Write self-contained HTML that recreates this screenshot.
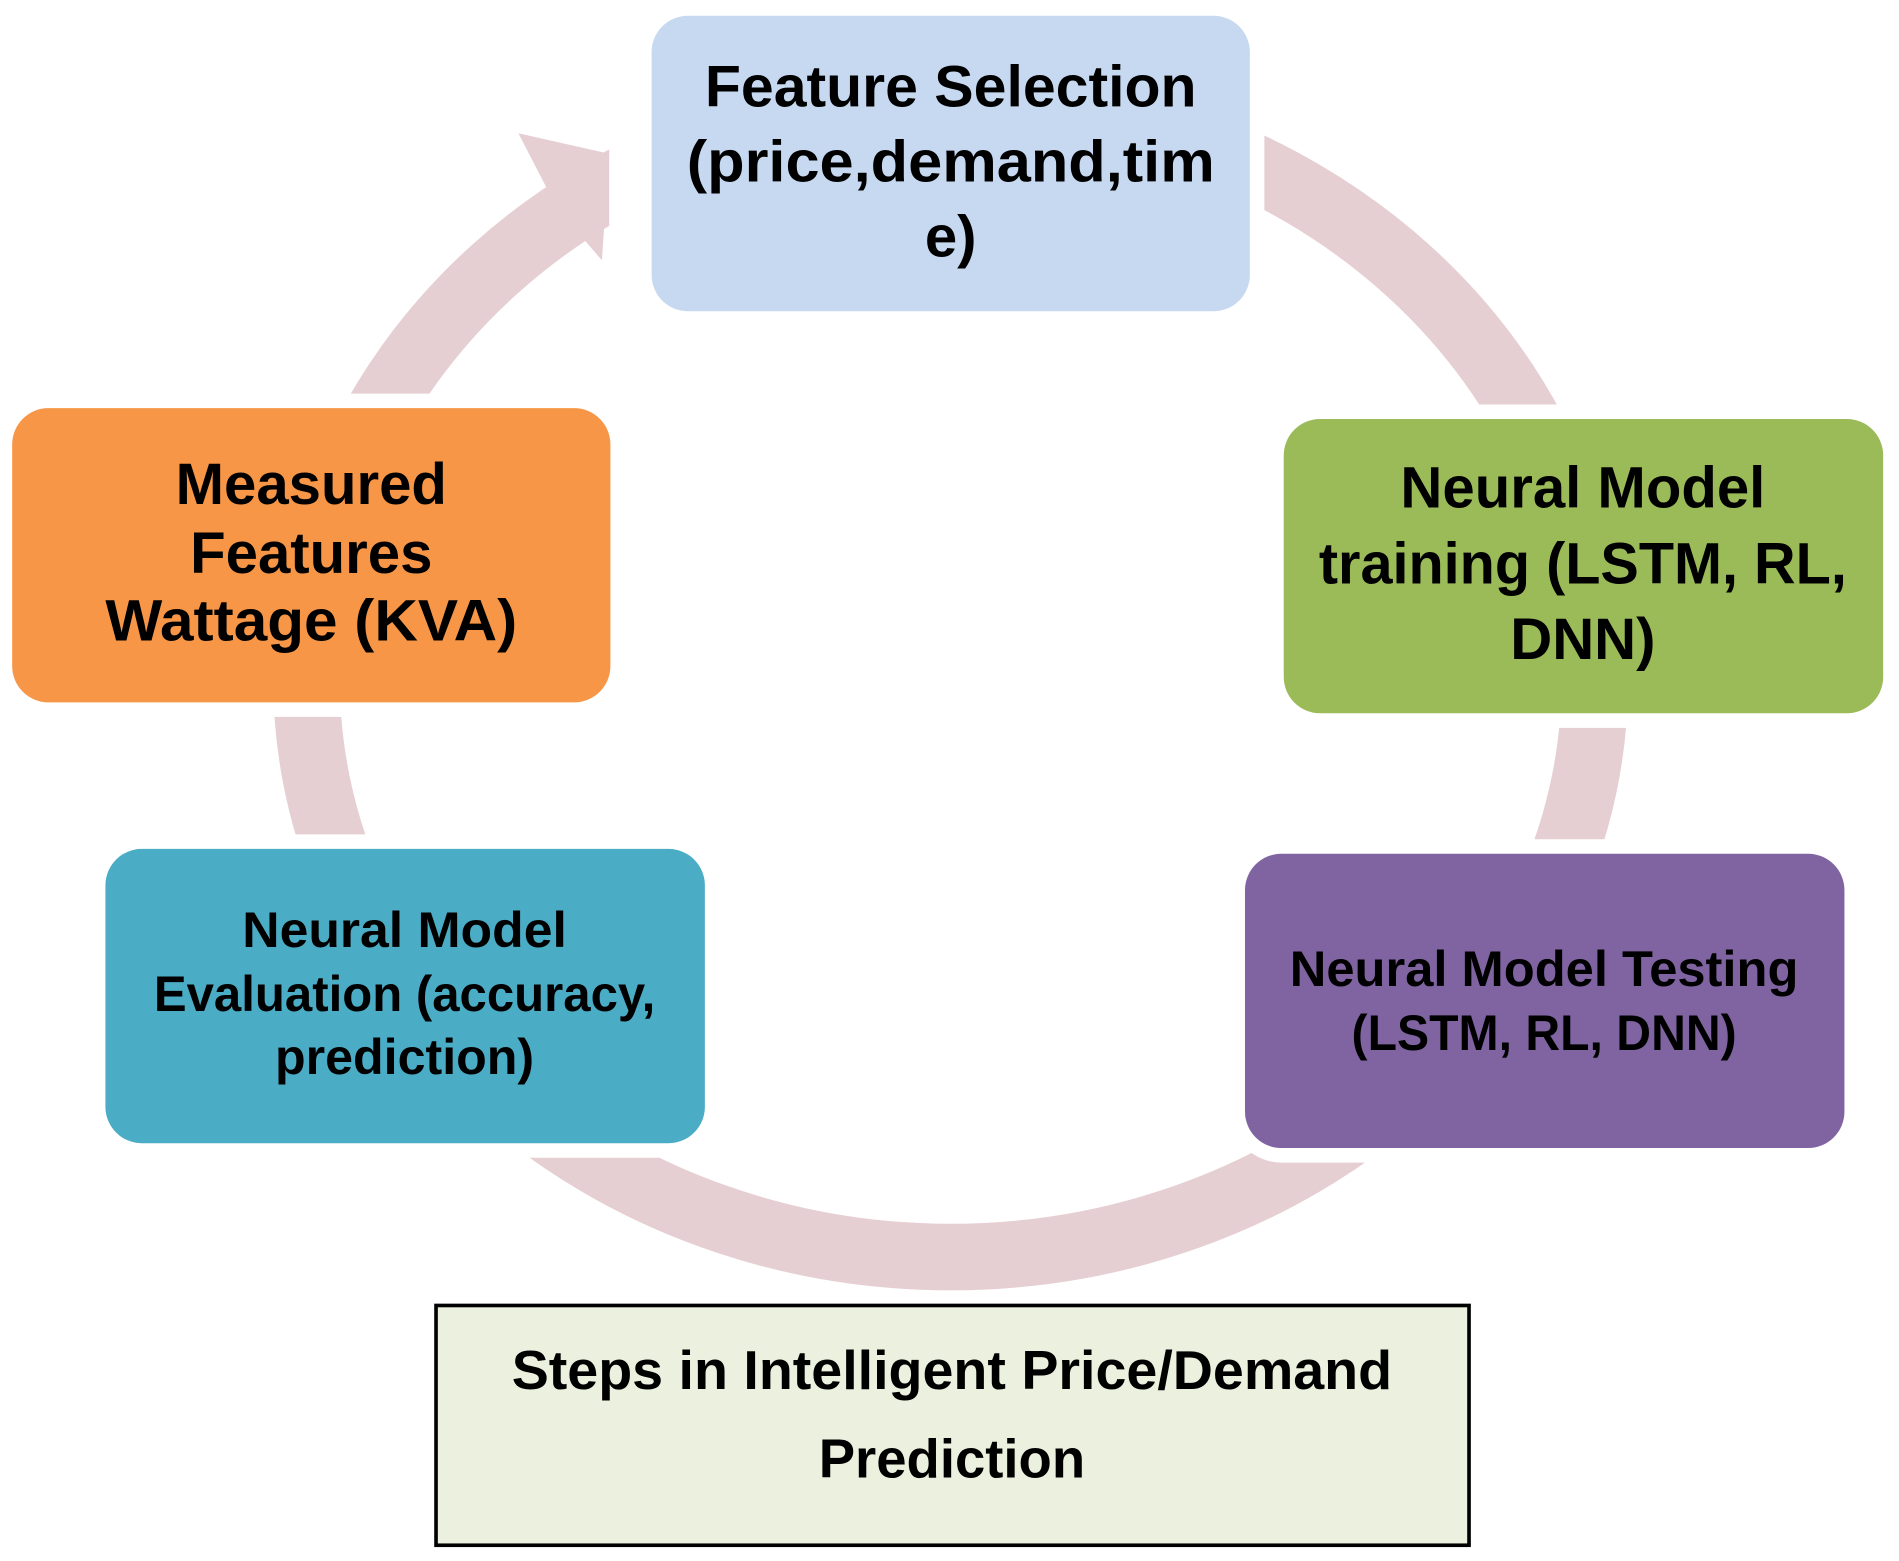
<!DOCTYPE html>
<html><head><meta charset="utf-8"><style>html,body{margin:0;padding:0;background:#fff}svg{display:block}</style></head>
<body>
<svg width="1899" height="1561" viewBox="0 0 1568 1289" xmlns="http://www.w3.org/2000/svg" font-family="'Liberation Sans', sans-serif" font-weight="bold">
<ellipse cx="785" cy="560" rx="532" ry="478" fill="none" stroke="#e6cfd3" stroke-width="55"/>
<rect x="503" y="60" width="40" height="200" fill="#fff"/>
<polygon points="428,110 503,127 503,125 497,215 460,172" fill="#e6cfd3"/>
<g stroke="#fff" stroke-width="24" fill="#fff">
<rect x="538" y="13" width="494" height="244" rx="30"/>
<rect x="10" y="337" width="494" height="243" rx="30"/>
<rect x="1060" y="346" width="495" height="243" rx="30"/>
<rect x="1028" y="705" width="495" height="243" rx="30"/>
<rect x="87" y="701" width="495" height="243" rx="30"/>
</g>
<rect x="538" y="13" width="494" height="244" rx="30" fill="#c6d9f0"/>
<rect x="10" y="337" width="494" height="243" rx="30" fill="#f79646"/>
<rect x="1060" y="346" width="495" height="243" rx="30" fill="#9bbb59"/>
<rect x="1028" y="705" width="495" height="243" rx="30" fill="#8064a2"/>
<rect x="87" y="701" width="495" height="243" rx="30" fill="#4bacc6"/>
<rect x="360" y="1078" width="853" height="198" fill="#ebf1de" stroke="#000" stroke-width="3"/>
<g text-anchor="middle" fill="#000">
<g font-size="48">
<text x="785" y="88" textLength="406" lengthAdjust="spacingAndGlyphs">Feature Selection</text>
<text x="785" y="150" textLength="436" lengthAdjust="spacingAndGlyphs">(price,demand,tim</text>
<text x="785" y="212">e)</text>
<text x="257" y="416">Measured</text>
<text x="257" y="473">Features</text>
<text x="257" y="529" textLength="340" lengthAdjust="spacingAndGlyphs">Wattage (KVA)</text>
<text x="1307" y="419">Neural Model</text>
<text x="1307" y="482" textLength="436" lengthAdjust="spacingAndGlyphs">training (LSTM, RL,</text>
<text x="1307" y="544">DNN)</text>
</g>
<g font-size="41">
<text x="1275" y="814" textLength="420" lengthAdjust="spacingAndGlyphs">Neural Model Testing</text>
<text x="1275" y="867" textLength="318" lengthAdjust="spacingAndGlyphs">(LSTM, RL, DNN)</text>
<text x="334" y="782" textLength="268" lengthAdjust="spacingAndGlyphs">Neural Model</text>
<text x="334" y="835" textLength="414" lengthAdjust="spacingAndGlyphs">Evaluation (accuracy,</text>
<text x="334" y="887" textLength="214" lengthAdjust="spacingAndGlyphs">prediction)</text>
</g>
<g font-size="45">
<text x="786" y="1147" textLength="727" lengthAdjust="spacingAndGlyphs">Steps in Intelligent Price/Demand</text>
<text x="786" y="1220" textLength="220" lengthAdjust="spacingAndGlyphs">Prediction</text>
</g>
</g>
</svg>
</body></html>
